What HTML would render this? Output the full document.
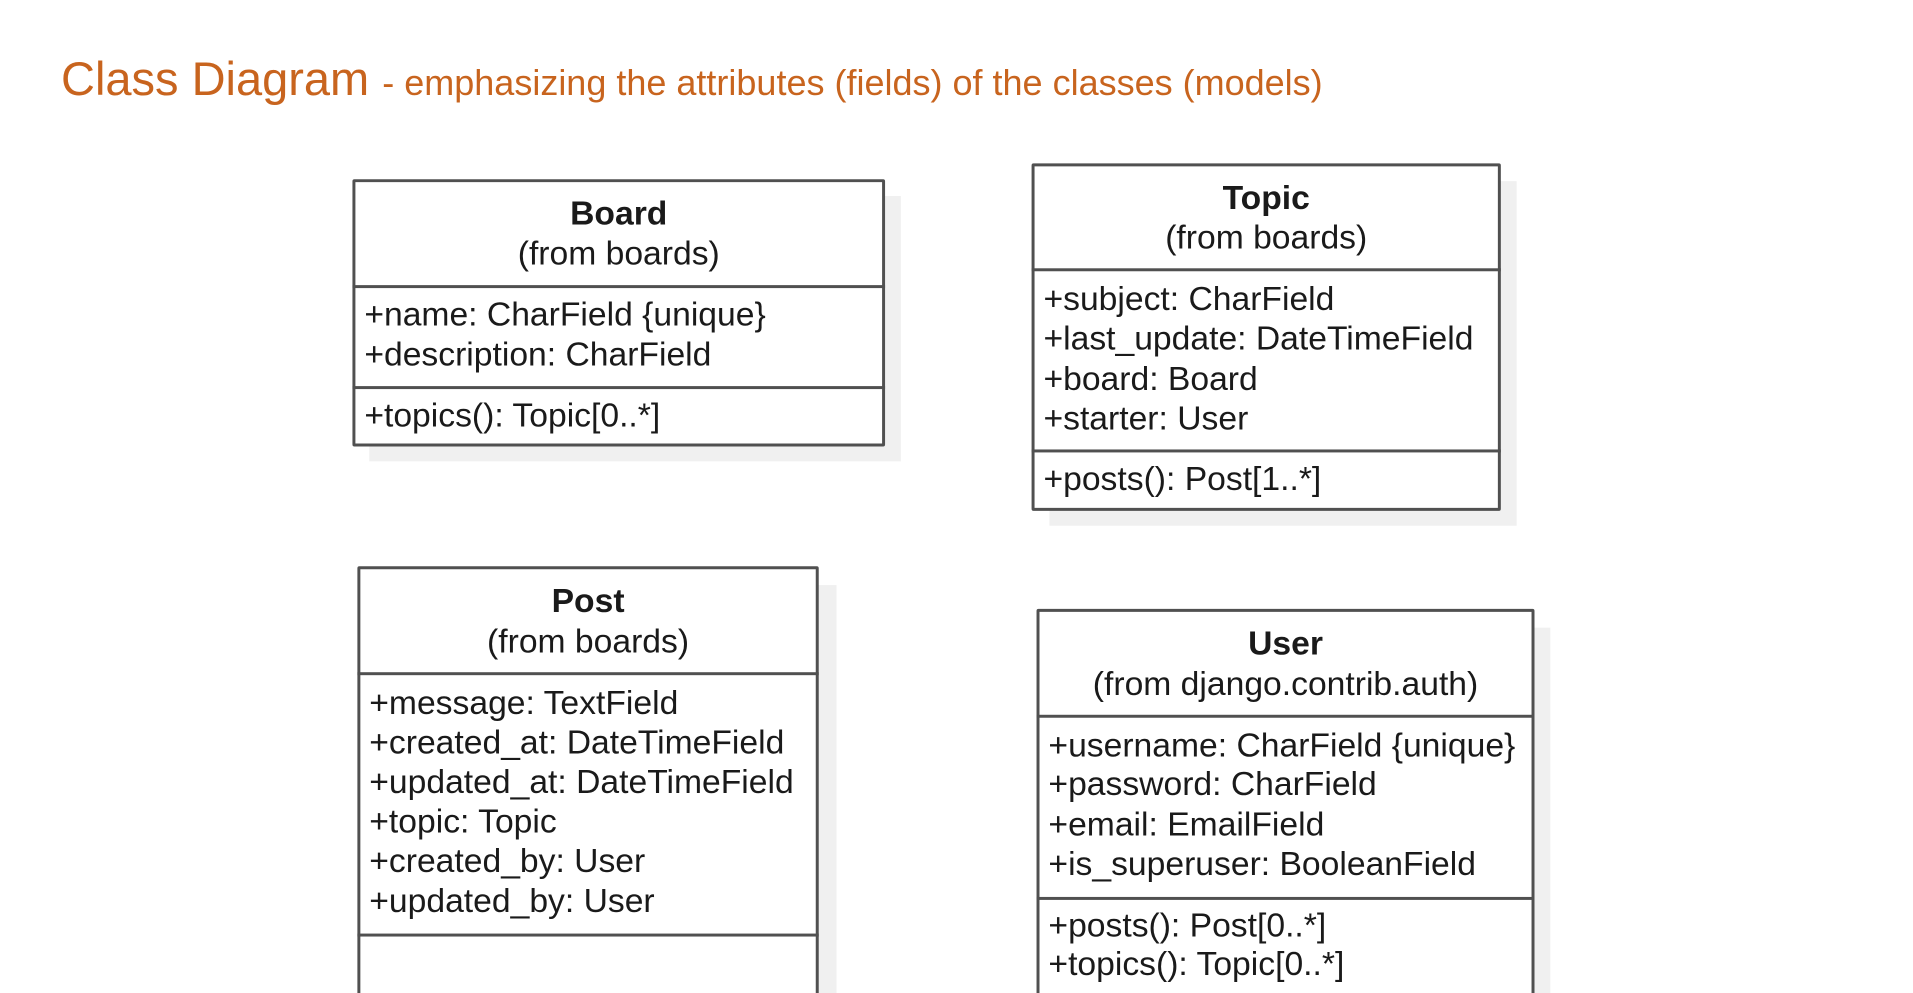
<!DOCTYPE html>
<html style="height:993px;overflow:hidden;"><head><meta charset="utf-8"><style>
html,body{margin:0;width:1913px;height:993px;overflow:hidden;}
body{background:#fff;position:relative;font-family:"Liberation Sans",Arial,sans-serif;}
#w{position:absolute;left:0;top:0;width:1913px;height:1003px;transform:scale(0.99);transform-origin:0 0;overflow:hidden;}
.t{position:absolute;white-space:nowrap;color:#1a1a1a;font-size:34px;line-height:40px;}
.c{text-align:center;}
.b{font-weight:bold;}
.box{position:absolute;border:3px solid #505050;border-radius:2px;background:#fff;box-sizing:border-box;}
.sh{position:absolute;background:#f0f0f0;}
.hl{position:absolute;height:3px;background:#505050;}
</style></head><body>
<div class="t" style="left:61px;top:50px;font-size:47px;line-height:58px;color:#c8641e;">Class Diagram <span style="font-size:36px;">- emphasizing the attributes (fields) of the classes (models)</span></div>
<div id="w">
<!-- Board -->
<div class="sh" style="left:373px;top:198px;width:537px;height:268px;"></div>
<div class="box" style="left:356px;top:181px;width:538px;height:270px;"></div>
<div class="hl" style="left:356px;top:288px;width:538px;"></div>
<div class="hl" style="left:356px;top:390px;width:538px;"></div>
<div class="t c b" style="left:356px;width:538px;top:196px;">Board</div>
<div class="t c" style="left:356px;width:538px;top:236px;">(from boards)</div>
<div class="t" style="left:368px;top:298px;">+name: CharField {unique}</div>
<div class="t" style="left:368px;top:338px;">+description: CharField</div>
<div class="t" style="left:368px;top:400px;">+topics(): Topic[0..*]</div>

<!-- Topic -->
<div class="sh" style="left:1060px;top:183px;width:472px;height:348px;"></div>
<div class="box" style="left:1042px;top:165px;width:474px;height:351px;"></div>
<div class="hl" style="left:1042px;top:271px;width:474px;"></div>
<div class="hl" style="left:1042px;top:454px;width:474px;"></div>
<div class="t c b" style="left:1042px;width:474px;top:180px;">Topic</div>
<div class="t c" style="left:1042px;width:474px;top:220px;">(from boards)</div>
<div class="t" style="left:1054px;top:282px;">+subject: CharField</div>
<div class="t" style="left:1054px;top:322px;">+last_update: DateTimeField</div>
<div class="t" style="left:1054px;top:363px;">+board: Board</div>
<div class="t" style="left:1054px;top:403px;">+starter: User</div>
<div class="t" style="left:1054px;top:464px;">+posts(): Post[1..*]</div>

<!-- Post -->
<div class="sh" style="left:380px;top:591px;width:465px;height:500px;"></div>
<div class="box" style="left:361px;top:572px;width:466px;height:520px;"></div>
<div class="hl" style="left:361px;top:679px;width:466px;"></div>
<div class="hl" style="left:361px;top:943px;width:466px;"></div>
<div class="t c b" style="left:361px;width:466px;top:587px;">Post</div>
<div class="t c" style="left:361px;width:466px;top:628px;">(from boards)</div>
<div class="t" style="left:373px;top:690px;">+message: TextField</div>
<div class="t" style="left:373px;top:730px;">+created_at: DateTimeField</div>
<div class="t" style="left:373px;top:770px;">+updated_at: DateTimeField</div>
<div class="t" style="left:373px;top:810px;">+topic: Topic</div>
<div class="t" style="left:373px;top:850px;">+created_by: User</div>
<div class="t" style="left:373px;top:890px;">+updated_by: User</div>

<!-- User -->
<div class="sh" style="left:1066px;top:634px;width:500px;height:460px;"></div>
<div class="box" style="left:1047px;top:615px;width:503px;height:480px;"></div>
<div class="hl" style="left:1047px;top:722px;width:503px;"></div>
<div class="hl" style="left:1047px;top:906px;width:503px;"></div>
<div class="t c b" style="left:1047px;width:503px;top:630px;">User</div>
<div class="t c" style="left:1047px;width:503px;top:671px;">(from django.contrib.auth)</div>
<div class="t" style="left:1059px;top:733px;">+username: CharField {unique}</div>
<div class="t" style="left:1059px;top:772px;">+password: CharField</div>
<div class="t" style="left:1059px;top:813px;">+email: EmailField</div>
<div class="t" style="left:1059px;top:853px;">+is_superuser: BooleanField</div>
<div class="t" style="left:1059px;top:915px;">+posts(): Post[0..*]</div>
<div class="t" style="left:1059px;top:954px;">+topics(): Topic[0..*]</div>
</div>
</body></html>
